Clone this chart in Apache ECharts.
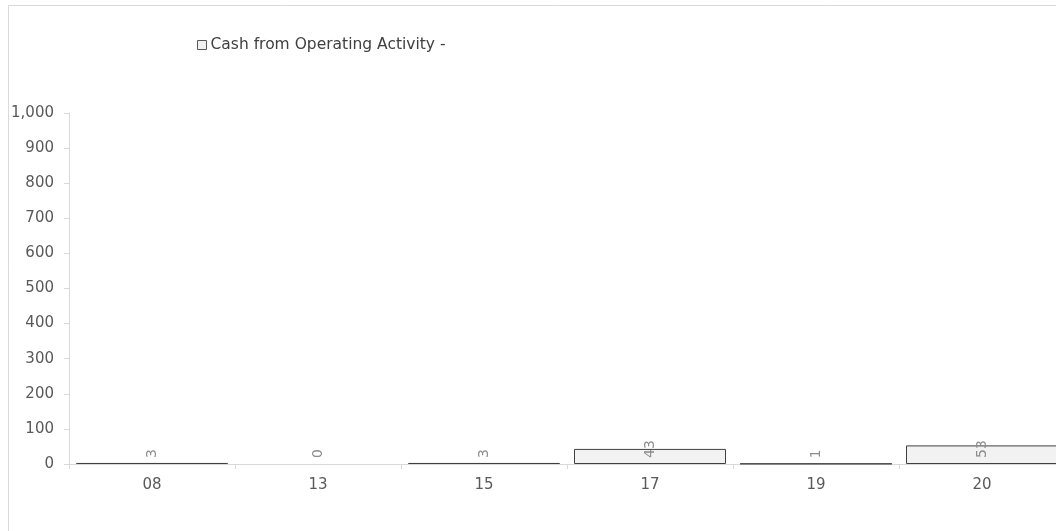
<!DOCTYPE html>
<html><head><meta charset="utf-8">
<script src="https://cdn.jsdelivr.net/npm/echarts@6/dist/echarts.min.js"></script>
<style>html,body{margin:0;padding:0;background:#fff;overflow:hidden;width:1056px;height:531px;}#c{width:1100px;height:531px;}</style>
</head><body><div id="c"></div>
<script>
var categories = ['08', '13', '15', '17', '19', '20'];
var seriesName = 'Cash from Operating Activity -';
var values = [3, 0, 3, 43, 1, 53];
var yTicks = [0, 100, 200, 300, 400, 500, 600, 700, 800, 900, 1000];

var chart = echarts.init(document.getElementById('c'), null, {renderer: 'canvas'});
var font = 'DejaVu Sans, Verdana, sans-serif';
var barData = values.map(function (v) {
  return v === 0 ? {value: v, itemStyle: {borderWidth: 0, color: 'transparent'}} : v;
});
chart.setOption({
  animation: false,
  backgroundColor: '#fff',
  graphic: [{
    type: 'rect', silent: true, z: -1,
    shape: {x: 8.5, y: 5.5, width: 1200, height: 600},
    style: {fill: 'none', stroke: '#d9d9d9', lineWidth: 1}
  }],
  legend: {
    left: 197, top: 37, padding: 0,
    itemWidth: 9, itemHeight: 9, itemGap: 10,
    icon: 'rect',
    textStyle: {fontFamily: font, fontSize: 15.5, color: '#404040', padding: [0,0,0,-1]},
    data: [{name: seriesName, itemStyle: {color: '#f2f2f2', borderColor: '#595959', borderWidth: 1}}]
  },
  grid: {left: 69, top: 113, width: 996, bottom: 67, containLabel: false, outerBoundsMode: 'none'},
  xAxis: {
    type: 'category', data: categories,
    axisLine: {lineStyle: {color: '#d9d9d9'}},
    axisTick: {show: true, length: 5, lineStyle: {color: '#d9d9d9'}},
    axisLabel: {fontFamily: font, fontSize: 15, color: '#595959', margin: 14}
  },
  yAxis: {
    type: 'value', min: yTicks[0], max: yTicks[yTicks.length - 1], interval: 100,
    splitLine: {show: false},
    axisLine: {show: true, lineStyle: {color: '#d9d9d9'}},
    axisTick: {show: true, length: 5, lineStyle: {color: '#d9d9d9'}},
    axisLabel: {
      fontFamily: font, fontSize: 15, color: '#595959', margin: 15,
      formatter: function (v) { return v.toLocaleString('en-US'); }
    }
  },
  series: [{
    name: seriesName, type: 'bar', data: barData, barWidth: 152,
    itemStyle: {color: '#f2f2f2', borderColor: '#404040', borderWidth: 1},
    label: {
      show: true, position: 'insideBottom', distance: 4, rotate: 90,
      align: 'left', verticalAlign: 'middle', offset: [2, 0],
      fontFamily: font, fontSize: 14, color: '#8c8c8c'
    }
  }]
});
</script></body></html>
